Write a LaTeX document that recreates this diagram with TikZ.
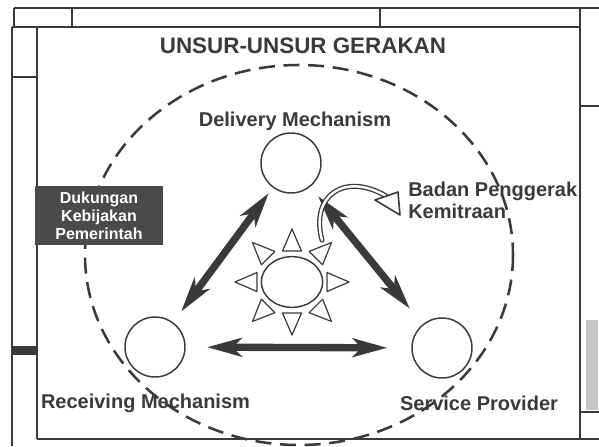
\documentclass[tikz,border=0pt]{standalone}
\usepackage{fontspec}
\setmainfont{Liberation Sans}
\usepackage{xcolor}
\usetikzlibrary{positioning, arrows.meta, shapes.geometric}

\definecolor{abu}{HTML}{3A3A3A}
\definecolor{kotak}{HTML}{4A4A4A}

\begin{document}
\begin{tikzpicture}[x=0.75pt, y=-0.75pt,
    bingkai/.style={line width=1.5pt, draw=abu},
    bulat/.style={circle, draw=abu, line width=1.1pt, minimum size=45pt, inner sep=0pt},
    teks/.style={font=\bfseries\fontsize{15}{16.5}\selectfont, text=abu, anchor=base, inner sep=0pt},
    panah/.style={line width=5.5pt, draw=abu,
        arrows={Stealth[length=26pt, width=14pt, inset=7pt]-Stealth[length=26pt, width=14pt, inset=7pt]}},
    segitiga/.style={draw=abu, line width=0.9pt, fill=white, line join=round}]
  \useasboundingbox (0,0) rectangle (599,446);

  % Bingkai
  \draw[bingkai] (14,8) -- (599,8);
  \draw[bingkai] (12,27) -- (580,27);
  \draw[bingkai] (12,27) -- (12,446);
  \draw[bingkai] (14,8) -- (14,27);
  \draw[bingkai] (72,8) -- (72,27);
  \draw[bingkai] (380,8) -- (380,27);
  \draw[bingkai] (580,8) -- (580,439);
  \draw[bingkai, line width=2.2pt] (37,27) -- (37,439);
  \draw[bingkai] (12,77) -- (37,77);
  \fill[abu] (12,346) rectangle (37,355);
  \draw[bingkai] (37,439) -- (599,439);
  \draw[bingkai] (580,106) -- (599,106);
  \draw[bingkai] (580,412) -- (599,412);
  \fill[gray!45] (586,320) rectangle (598,410);

  % Judul
  \node[teks, font=\bfseries\fontsize{16.8}{18}\selectfont] (judul) at (303,53) {UNSUR-UNSUR GERAKAN};

  % Lingkaran besar
  \draw[abu, line width=1.9pt, dash pattern=on 12pt off 6.5pt] (299,255) ellipse [x radius=214, y radius=190];

  % Kotak kiri
  \node[fill=kotak, minimum width=96pt, minimum height=44pt, inner sep=0pt,
        text=white, align=center, font=\bfseries\fontsize{12}{13.5}\selectfont] (kb) at (99,215.5)
        {Dukungan\\Kebijakan\\Pemerintah};

  % Unsur
  \node[bulat] (dm) at (291,163) {};
  \node[bulat] (rm) at (155,347) {};
  \node[bulat] (sp) at (442,348) {};
  \node[teks] (dml) at (295,126) {Delivery Mechanism};
  \node[teks] (rml) at (145.5,408) {Receiving Mechanism};
  \node[teks] (spl) at (479,410) {Service Provider};
  \node[teks, anchor=base west, align=left] (bpk) at (408,218) {Badan Penggerak\\Kemitraan};

  % Matahari
  \node[ellipse, draw=abu, line width=1.1pt, minimum width=46pt, minimum height=38pt, inner sep=0pt] (sun) at (292,282) {};
  \foreach \a in {0,45,...,315} {
    \pgfmathsetmacro\r{31+4*abs(cos(\a))}
    \draw[segitiga, shift={(sun.center)}, rotate=\a] (\r,-9.5) -- (\r+22,0) -- (\r,9.5) -- cycle;
  }

  % Panah
  \draw[panah, shorten <=5pt, shorten >=10pt] (dm) -- (rm);
  \draw[panah, shorten <=9pt, shorten >=15pt] (dm) -- (sp);
  \draw[panah, shorten <=16pt, shorten >=18pt] (rm) -- (sp);

  % Panah lengkung
  \draw[abu, line width=3.8pt, line cap=round] (322,240) .. controls (310,195) and (345,172) .. (386,196);
  \draw[white, line width=1.8pt, line cap=round] (322,240) .. controls (310,195) and (345,172) .. (386,196);
  \draw[segitiga, line width=1.2pt] (375,200) -- (398,192) -- (400,215) -- cycle;
\end{tikzpicture}
\end{document}
